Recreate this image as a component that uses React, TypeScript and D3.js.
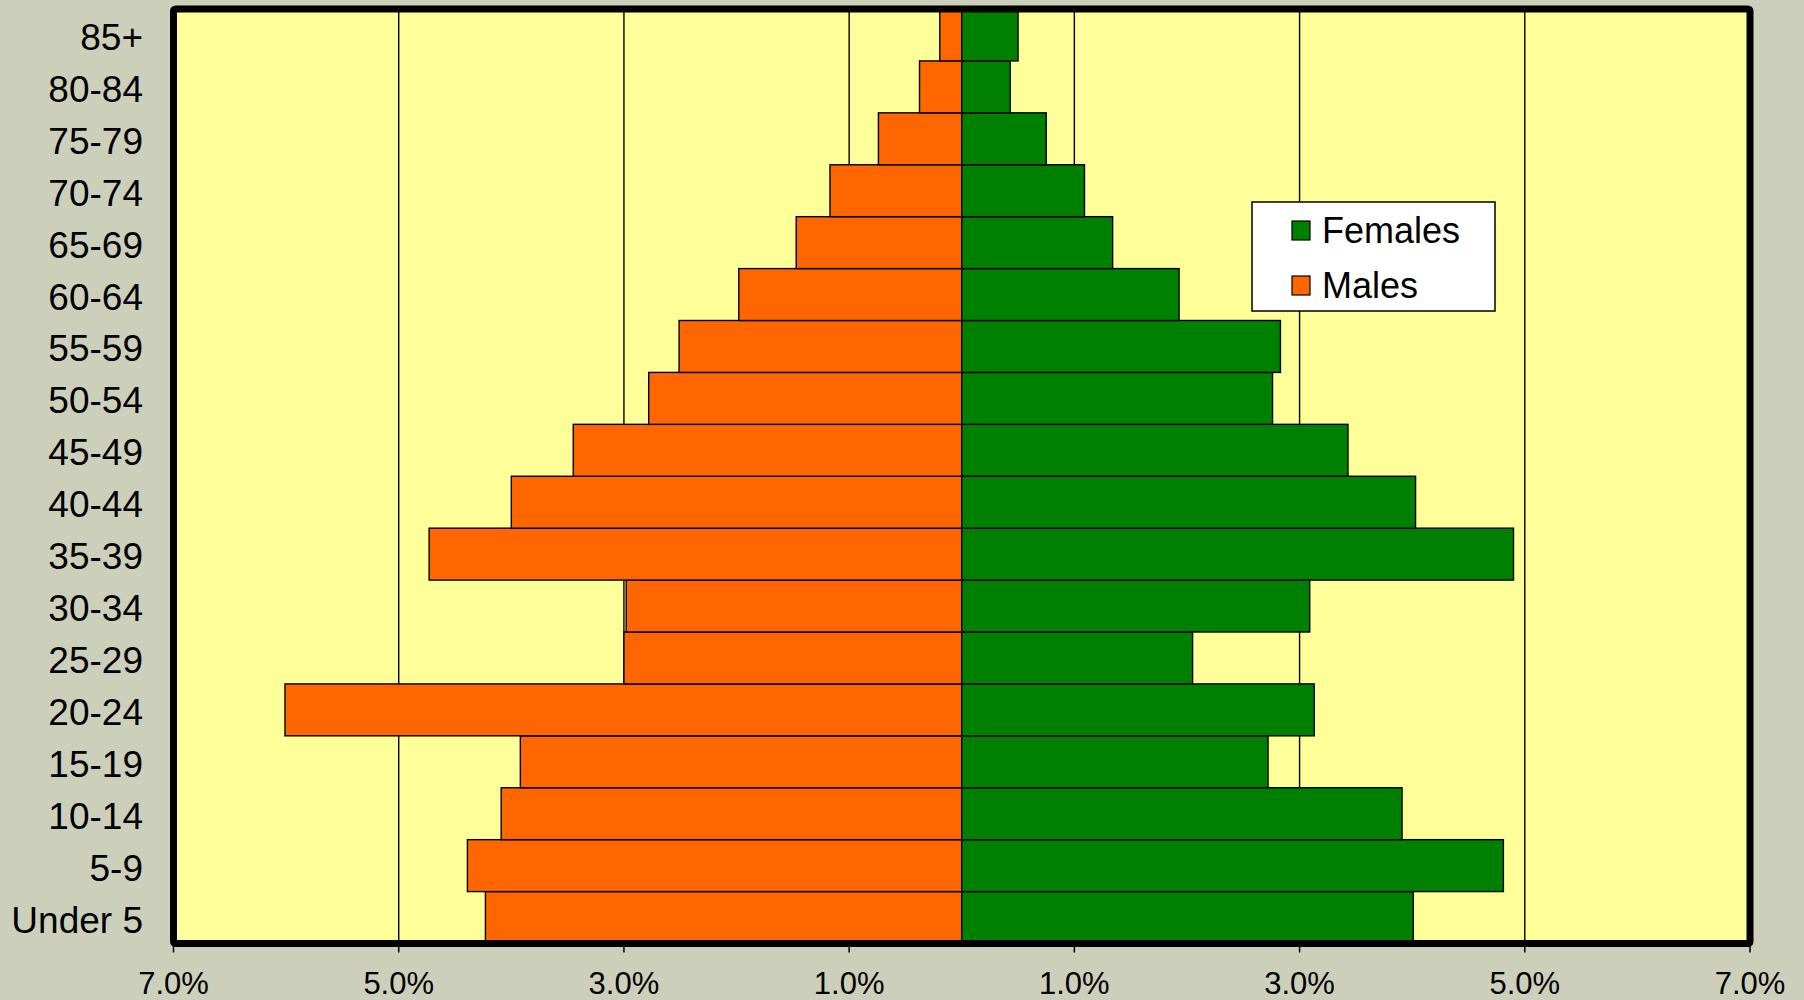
import React from "react";
import * as d3 from "d3";

const categories = ["Under 5", "5-9", "10-14", "15-19", "20-24", "25-29", "30-34", "35-39", "40-44", "45-49", "50-54", "55-59", "60-64", "65-69", "70-74", "75-79", "80-84", "85+"];
const males = [4.23, 4.39, 4.09, 3.92, 6.01, 3.0, 2.98, 4.73, 4.0, 3.45, 2.78, 2.51, 1.98, 1.47, 1.17, 0.74, 0.375, 0.195];
const females = [4.01, 4.81, 3.91, 2.72, 3.13, 2.05, 3.09, 4.9, 4.03, 3.43, 2.76, 2.83, 1.93, 1.34, 1.09, 0.75, 0.43, 0.5];
const tickValues = [-7, -5, -3, -1, 1, 3, 5, 7];
const gridValues = [-5, -3, -1, 1, 3, 5];
const legendItems = [
  { label: "Females", color: "#008000" },
  { label: "Males", color: "#FF6600" },
];

const W = 1804;
const H = 1000;
const PL = 173.5;
const PR = 1750;
const PT = 9;
const PB = 943.5;
const FONT = "'Liberation Sans', Arial, sans-serif";

export default function App() {
  const x = d3.scaleLinear().domain([-7, 7]).range([PL, PR]);
  const y = d3.scaleBand<string>().domain(categories.slice().reverse()).range([PT, PB]).padding(0);
  const bw = y.bandwidth();
  const fmt = (v: number) => d3.format(".1f")(Math.abs(v)) + "%";

  return (
    <svg width={W} height={H} style={{ position: "absolute", left: 0, top: 0, display: "block" }}>
      <rect x={0} y={0} width={W} height={H} fill="#CCD0BB" />
      <rect x={PL + 3} y={PT + 3} width={PR - PL} height={PB - PT} fill="#9a9c8c" opacity={0.5} rx={3} />
      <rect x={PL} y={PT} width={PR - PL} height={PB - PT} fill="#FFFF99" />
      {gridValues.map((v) => (
        <line key={"g" + v} x1={x(v)} x2={x(v)} y1={PT} y2={PB} stroke="#000" strokeWidth={1.4} />
      ))}
      {categories.map((c, i) => (
        <g key={c}>
          <rect x={x(-males[i])} y={y(c)} width={x(0) - x(-males[i])} height={bw} fill="#FF6600" stroke="#000" strokeWidth={1.4} />
          <rect x={x(0)} y={y(c)} width={x(females[i]) - x(0)} height={bw} fill="#008000" stroke="#000" strokeWidth={1.4} />
        </g>
      ))}
      <rect x={PL} y={PT} width={PR - PL} height={PB - PT} fill="none" stroke="#000" strokeWidth={7} rx={2} />
      {tickValues.map((v) => (
        <g key={"t" + v}>
          <line x1={x(v)} x2={x(v)} y1={PB} y2={PB + 9} stroke="#000" strokeWidth={1.5} />
          <text x={x(v)} y={994} textAnchor="middle" fontFamily={FONT} fontSize={31} fill="#000">
            {fmt(v)}
          </text>
        </g>
      ))}
      {categories.map((c) => (
        <text key={"l" + c} x={143} y={(y(c) as number) + bw / 2 + 15} textAnchor="end" fontFamily={FONT} fontSize={37} fill="#000">
          {c}
        </text>
      ))}
      <g>
        <rect x={1252} y={202} width={243} height={109} fill="#fff" stroke="#000" strokeWidth={1.5} />
        {legendItems.map((it, i) => (
          <g key={it.label}>
            <rect x={1292} y={221 + i * 55} width={18} height={19} fill={it.color} stroke="#000" strokeWidth={1.2} />
            <text x={1322} y={230 + i * 55 + 13} fontFamily={FONT} fontSize={36} fill="#000">
              {it.label}
            </text>
          </g>
        ))}
      </g>
    </svg>
  );
}
